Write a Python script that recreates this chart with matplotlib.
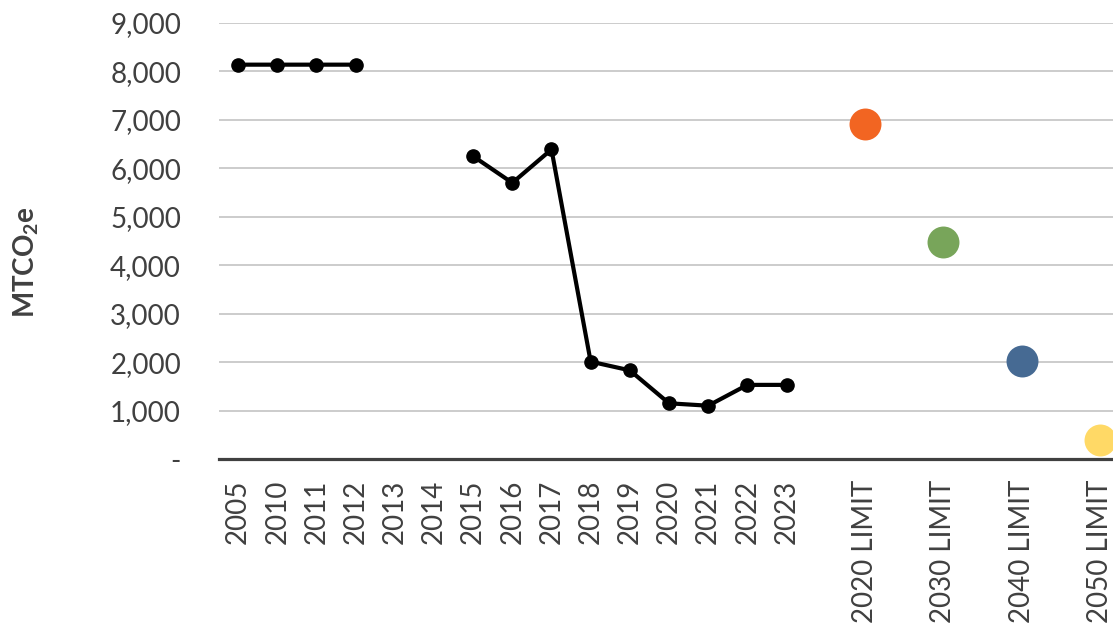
import numpy as np
import matplotlib
matplotlib.use("Agg")
import matplotlib.pyplot as plt

# ---- data ----
categories = ["2005", "2010", "2011", "2012", "2013", "2014", "2015", "2016", "2017",
              "2018", "2019", "2020", "2021", "2022", "2023",
              "", "2020 LIMIT", "", "2030 LIMIT", "", "2040 LIMIT", "", "2050 LIMIT"]
emissions = [8140, 8140, 8140, 8140, np.nan, np.nan, 6250, 5700, 6390,
             2010, 1830, 1150, 1100, 1530, 1530]
limit_labels = ["2020 LIMIT", "2030 LIMIT", "2040 LIMIT", "2050 LIMIT"]
limit_values = [6925, 4480, 2030, 400]
limit_colors = ["#F26522", "#78A55A", "#466A93", "#FFD966"]
yticks = [0, 1000, 2000, 3000, 4000, 5000, 6000, 7000, 8000, 9000]
ytick_labels = ["-", "1,000", "2,000", "3,000", "4,000", "5,000", "6,000", "7,000", "8,000", "9,000"]

plt.rcParams['font.family'] = ['Lato', 'DejaVu Sans']
plt.rcParams['mathtext.fontset'] = 'custom'
plt.rcParams['mathtext.rm'] = 'Lato'
plt.rcParams['mathtext.bf'] = 'Lato:bold'

fig = plt.figure(figsize=(11.13, 6.25), dpi=100)
ax = fig.add_axes([218.5 / 1113, 1 - 459 / 625, 901 / 1113, (459 - 23) / 625])

x = np.arange(len(categories))
ax.plot(x[:len(emissions)], emissions, color="black", lw=3.0, marker="o",
        markersize=9.5, zorder=3, clip_on=False)

for lab, val, col in zip(limit_labels, limit_values, limit_colors):
    ax.plot([categories.index(lab)], [val], marker="o", markersize=23, color=col,
            markeredgewidth=0, linestyle="none", zorder=3, clip_on=False)

ax.set_xlim(-0.5, len(categories) - 0.5)
ax.set_ylim(0, 9000)
ax.set_xticks(x)
ax.set_xticklabels(categories, rotation=90, fontsize=20, color="#404040")
ax.set_yticks(yticks)
ax.set_yticklabels(ytick_labels, fontsize=20, color="#404040")
ax.tick_params(axis="x", length=0, pad=15)
ax.tick_params(axis="y", length=0, pad=27)

ax.grid(axis="y", color="#CCCCCC", lw=1.4)
ax.set_axisbelow(True)
for s in ["top", "right", "left"]:
    ax.spines[s].set_visible(False)
ax.spines["bottom"].set_color("#404040")
ax.spines["bottom"].set_linewidth(2.3)
ax.spines["bottom"].set_zorder(2)

fig.text(26 / 1113, 1 - 262 / 625, r"$\mathbf{MTCO_2e}$", rotation=90, fontsize=20,
         color="#404040", ha="center", va="center")

fig.savefig("out.png", dpi=100)
